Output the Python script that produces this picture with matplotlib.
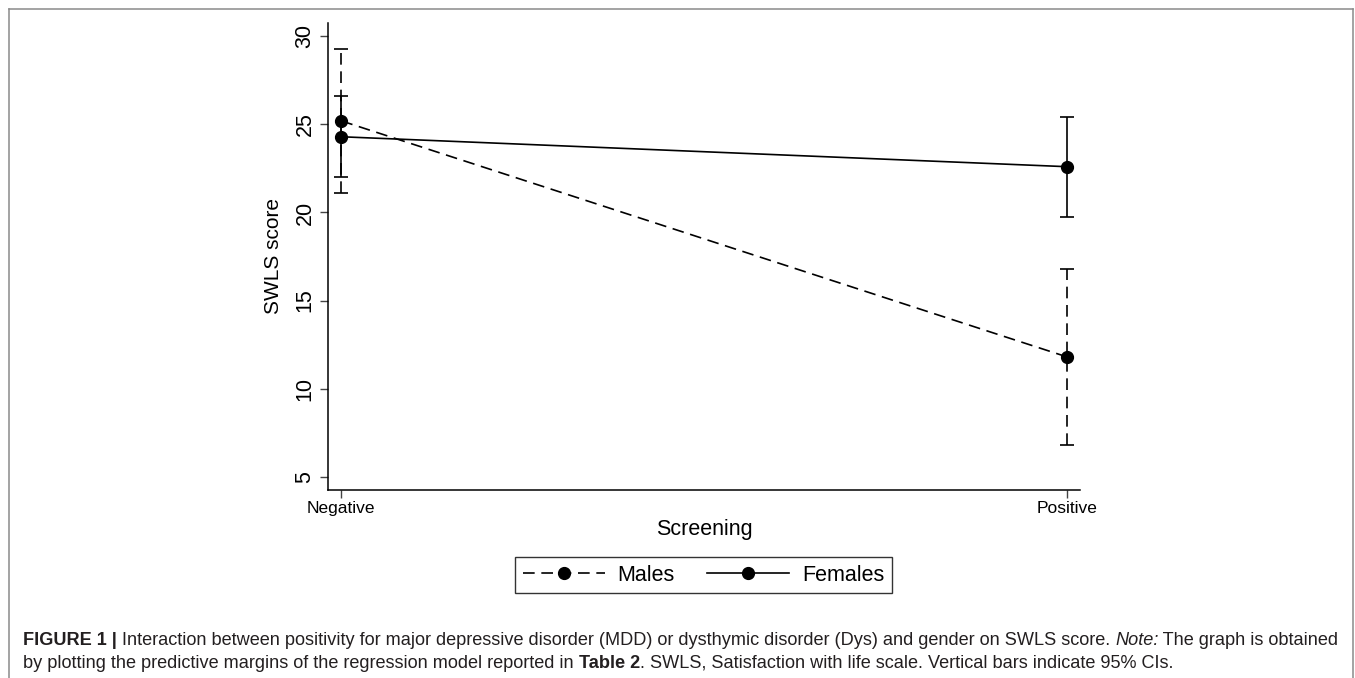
import matplotlib
matplotlib.use('Agg')
import matplotlib.pyplot as plt
from matplotlib.lines import Line2D

# predictive margins
screening = ['Negative', 'Positive']
males_mean = [25.2, 11.8]
males_lo = [21.1, 6.8]
males_hi = [29.3, 16.8]
females_mean = [24.3, 22.6]
females_lo = [22.0, 19.75]
females_hi = [26.6, 25.45]
yticks = [5, 10, 15, 20, 25, 30]

plt.rcParams['font.family'] = ['Liberation Sans', 'DejaVu Sans']

W, H = 1355, 678
fig = plt.figure(figsize=(W / 100, H / 100), dpi=100)
ax = fig.add_axes([328 / W, 1 - 490 / H, (1080 - 328) / W, (490 - 23) / H])

x = list(range(len(screening)))


def series(mean, lo, hi, dashed, label):
    yerr = [[m - l for m, l in zip(mean, lo)], [h - m for m, h in zip(mean, hi)]]
    _, caps, bars = ax.errorbar(x, mean, yerr=yerr, fmt='none', ecolor='black',
                                elinewidth=1.2, capsize=5, capthick=1.2, zorder=2)
    ln, = ax.plot(x, mean, color='black', lw=1.2, marker='o', ms=8.5,
                  label=label, zorder=3)
    if dashed:
        ln.set_dashes((7, 4))
        for b in bars:
            b.set_linestyle((0, (7, 4)))
    return ln


h1 = series(males_mean, males_lo, males_hi, True, 'Males')
h2 = series(females_mean, females_lo, females_hi, False, 'Females')

ax.set_xlim(-0.0184, 1.018)
ax.set_ylim(4.24, 30.76)
ax.set_xticks(x)
ax.set_xticklabels(screening, fontsize=12.5)
ax.set_yticks(yticks)
ax.set_yticklabels([str(v) for v in yticks], fontsize=15.5, rotation=90, va='center')
ax.tick_params(axis='both', direction='out', length=6, width=1, color='#444444')
ax.tick_params(axis='x', pad=2)
ax.tick_params(axis='y', pad=3)
for s in ['top', 'right']:
    ax.spines[s].set_visible(False)
for s in ['left', 'bottom']:
    ax.spines[s].set_linewidth(1.1)
ax.set_xlabel('Screening', fontsize=15.5, labelpad=2)
ax.set_ylabel('SWLS score', fontsize=15, labelpad=8)

leg = ax.legend(handles=[h1, h2], ncol=2, loc='upper center',
                bbox_to_anchor=(703.5 / W, 1 - 557 / H), bbox_transform=fig.transFigure,
                fontsize=15.5, frameon=True, fancybox=False, edgecolor='black',
                handlelength=3.8, handletextpad=0.6, columnspacing=1.5,
                borderpad=0.35, borderaxespad=0)
leg.get_frame().set_linewidth(1.0)

# grey frame around the figure panel
fc = '#8a8a8a'
fig.add_artist(Line2D([8.5 / W, 8.5 / W], [0, 1 - 8.5 / H], color=fc, lw=1.1))
fig.add_artist(Line2D([8.5 / W, 1352.5 / W], [1 - 8.5 / H, 1 - 8.5 / H], color=fc, lw=1.1))
fig.add_artist(Line2D([1352.5 / W, 1352.5 / W], [0, 1 - 8.5 / H], color=fc, lw=1.1))

# caption, drawn piece by piece to mix bold / italic
cap_size = 13.05
cap_color = '#231f20'

line1 = [('FIGURE 1 |', 'bold', 'normal'),
         (' Interaction between positivity for major depressive disorder (MDD) or dysthymic '
          'disorder (Dys) and gender on SWLS score. ', 'normal', 'normal'),
         ('Note:', 'normal', 'italic'),
         (' The graph is obtained', 'normal', 'normal')]
line2 = [('by plotting the predictive margins of the regression model reported in ', 'normal', 'normal'),
         ('Table 2', 'bold', 'normal'),
         ('. SWLS, Satisfaction with life scale. Vertical bars indicate 95% CIs.', 'normal', 'normal')]

renderer = fig.canvas.get_renderer()


def caption_line(segs, y):
    xp = 23
    for txt, wt, st in segs:
        t = fig.text(xp / W, 1 - y / H, txt, fontsize=cap_size,
                     weight=wt, style=st, color=cap_color, va='baseline', ha='left')
        xp += t.get_window_extent(renderer).width


caption_line(line1, 645)
caption_line(line2, 668)

fig.savefig('out.png', dpi=100)
